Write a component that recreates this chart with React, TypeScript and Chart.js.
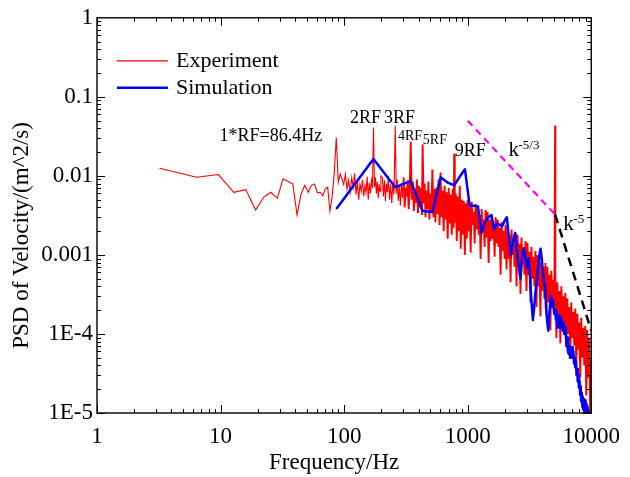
import React, { useEffect, useRef } from 'react';
import { Chart, registerables } from 'chart.js';

Chart.register(...registerables);

const FONT = "'Liberation Serif', 'Times New Roman', Times, serif";

// ---- axis ticks ----
const xTickValues = [1, 10, 100, 1000, 10000];
const xTickLabels = ['1', '10', '100', '1000', '10000'];
const yTickValues = [1e-5, 1e-4, 1e-3, 1e-2, 1e-1, 1];
const yTickLabels = ['1E-5', '1E-4', '0.001', '0.01', '0.1', '1'];

// ---- Experiment (frequency in Hz, PSD) ----
const expFreq = [
  3.2, 6.4, 9.6, 12.8, 16, 19.2, 22.4, 25.6, 28.8, 32,
  35.2, 38.4, 41.6, 44.8, 48, 51.2, 54.4, 57.6, 60.8, 64,
  67.2, 70.4, 73.6, 76.8, 80, 83.2, 86.4, 89.6, 92.8, 96,
  99.2, 102.4, 105.6, 108.8, 112, 115.2, 118.4, 121.6, 124.8, 128,
  131.2, 134.4, 137.6, 140.8, 144, 147.2, 150.4, 153.6, 156.8, 160,
  163.2, 166.4, 169.6, 172.8, 176, 179.2, 182.4, 185.6, 188.8, 192,
  195.2, 198.4,
  204, 208, 212, 216, 220, 224, 228, 233, 238, 243,
  248, 253, 259.2, 264, 269, 274, 280, 285, 291, 297,
  303, 309, 315, 321, 327, 333, 340, 345.6, 353, 360,
  367, 374, 381, 388, 396, 404, 412, 420, 426, 432,
  440, 448, 456, 464, 472, 481, 490, 499, 508, 518,
  528, 538, 548, 559, 570, 581, 592, 603, 615, 627,
  639, 651, 663, 676, 689, 702, 715, 729, 743, 757,
  770, 777.6, 786, 801, 816, 831, 847, 863, 879, 896,
  913, 930, 948, 966, 984,
  1000, 1019, 1038, 1057, 1077, 1097, 1118, 1139, 1160, 1182,
  1204, 1227, 1250, 1273, 1297, 1321, 1346, 1371, 1397, 1423,
  1450, 1477, 1505, 1533, 1562, 1591, 1621, 1651, 1682, 1714,
  1746, 1779, 1812, 1846, 1881, 1916, 1952, 1989, 2026, 2064,
  2103, 2142, 2182, 2223, 2265, 2307, 2350, 2394, 2439, 2485,
  2532, 2579, 2627, 2676, 2726, 2777, 2829, 2882, 2936, 2991,
  3047, 3104, 3162, 3221, 3282, 3343, 3406, 3470, 3535, 3601,
  3668, 3737, 3807, 3878, 3951, 4025, 4100, 4177, 4255, 4335,
  4416, 4499, 4583, 4669, 4757, 4846, 4937, 5029, 5096, 5124, 5220,
  5317, 5417, 5519, 5622, 5727, 5835, 5944, 6055, 6169, 6284,
  6402, 6522, 6644, 6769, 6895, 7025, 7156, 7290, 7427, 7566,
  7708, 7852, 7999, 8149, 8302, 8458, 8616, 8778, 8942, 9110,
  9281, 9455, 9632, 9813, 9997,
];
const expPsd = [
  0.0125, 0.0096, 0.0104, 0.0062, 0.0067, 0.0037, 0.0054, 0.0062, 0.0052, 0.0092,
  0.0085, 0.0079, 0.0032, 0.0059, 0.0076, 0.0062, 0.0076, 0.0079, 0.0061, 0.0062,
  0.0056, 0.0069, 0.0072, 0.0036, 0.0055, 0.011, 0.0305, 0.0083, 0.0106, 0.0092,
  0.0078, 0.0105, 0.0068, 0.0088, 0.0062, 0.0095, 0.0072, 0.0108, 0.0058, 0.0085,
  0.005, 0.0079, 0.0064, 0.009, 0.0055, 0.0075, 0.0062, 0.0098, 0.005, 0.0082,
  0.006, 0.0088, 0.007, 0.041, 0.0072, 0.0095, 0.006, 0.0085, 0.0052, 0.0078,
  0.0064, 0.01,
  0.0095, 0.0055, 0.0088, 0.0048, 0.008, 0.0062, 0.01, 0.005, 0.0078, 0.0045,
  0.0085, 0.0058, 0.043, 0.006, 0.009, 0.0048, 0.0075, 0.0042, 0.0082, 0.0052,
  0.0095, 0.004, 0.007, 0.0055, 0.0088, 0.0038, 0.0072, 0.027, 0.005, 0.0085,
  0.0036, 0.0068, 0.0045, 0.009, 0.0034, 0.0075, 0.004, 0.007, 0.0032, 0.025,
  0.0045, 0.008, 0.003, 0.0065, 0.0038, 0.0085, 0.0028, 0.006, 0.0035, 0.012,
  0.003, 0.0068, 0.0026, 0.0072, 0.0033, 0.009, 0.0024, 0.011, 0.003, 0.0065,
  0.002, 0.0075, 0.0028, 0.0062, 0.0016, 0.007, 0.0025, 0.0058, 0.0018, 0.0068,
  0.0022, 0.019, 0.0026, 0.006, 0.0015, 0.0055, 0.002, 0.0075, 0.0012, 0.005,
  0.0018, 0.0048, 0.001, 0.0045, 0.0016,
  5.0e-3, 2.0e-3, 4.0e-3, 1.07e-3, 4.7e-3, 2.4e-3, 3.5e-3, 1.4e-3, 4.4e-3, 2.1e-3,
  4.0e-3, 1.8e-3, 3.2e-3, 8.9e-4, 3.8e-3, 2.0e-3, 2.8e-3, 1.26e-3, 3.7e-3, 1.66e-3,
  3.5e-3, 7.9e-4, 2.8e-3, 1.5e-3, 3.3e-3, 1.6e-3, 2.5e-3, 9.5e-4, 3.0e-3, 1.4e-3,
  2.8e-3, 1.26e-3, 2.2e-3, 5.6e-4, 2.6e-3, 1.12e-3, 2.0e-3, 8.9e-4, 2.4e-3, 6.6e-4,
  2.24e-3, 8.9e-4, 1.8e-3, 4.5e-4, 2.1e-3, 1.0e-3, 1.6e-3, 7.1e-4, 1.9e-3, 4.0e-4,
  1.8e-3, 7.1e-4, 1.38e-3, 3.2e-4, 1.66e-3, 7.6e-4, 1.26e-3, 5.6e-4, 1.5e-3, 3.5e-4,
  1.41e-3, 5.6e-4, 1.1e-3, 2.5e-4, 1.26e-3, 5.0e-4, 9.5e-4, 4.0e-4, 1.12e-3, 2.2e-4,
  1.0e-3, 4.0e-4, 7.9e-4, 1.66e-4, 8.9e-4, 3.5e-4, 7.1e-4, 2.8e-4, 7.9e-4, 1.8e-4,
  7.1e-4, 2.5e-4, 5.6e-4, 1.12e-4, 6.3e-4, 2.2e-4, 4.8e-4, 2.0e-4, 0.0434, 5.0e-4, 8.9e-5,
  4.5e-4, 1.6e-4, 3.5e-4, 7.6e-5, 4.0e-4, 1.4e-4, 3.0e-4, 1.12e-4, 3.3e-4, 7.1e-5,
  2.8e-4, 1.0e-4, 2.2e-4, 5.0e-5, 2.5e-4, 8.9e-5, 1.9e-4, 7.1e-5, 2.1e-4, 3.5e-5,
  1.8e-4, 6.3e-5, 1.4e-4, 2.8e-5, 1.6e-4, 5.0e-5, 1.2e-4, 4.0e-5, 1.26e-4, 1.66e-5,
  1.12e-4, 2.8e-5, 8.9e-5, 8.9e-6, 5.0e-5,
];

// ---- Simulation: PSD at multiples of the rotating frequency RF ----
const RF = 86.4;
const simPsd = [
  0.0038, 0.0163, 0.0072, 0.0086, 0.0036, 0.0035, 0.0096, 0.0082, 0.0076, 0.0098,
  0.0121, 0.0042, 0.0042, 0.0041, 0.0019, 0.0026, 0.003, 0.0032, 0.0021, 0.0025,
  0.0024, 0.0023, 0.0027, 0.003, 0.0016, 0.001, 0.0015, 0.0019, 0.0011, 0.0007,
  0.0005, 0.001, 0.0012, 0.0009, 0.00068, 0.0009, 0.0005, 0.00026, 0.00015, 0.00022,
  0.00035, 0.00046, 0.0007, 0.001, 0.0012, 0.0009, 0.0006, 0.00045, 0.0004, 0.0002,
  0.00014, 0.00011, 0.00018, 0.00025, 0.0003, 0.00022, 0.00026, 0.00018, 0.0002, 0.00015,
  0.00019, 0.00012, 0.00013, 0.00017, 0.00012, 0.00016, 0.00016, 0.00011, 0.00014, 0.0001,
  0.00012, 0.0001, 0.00007, 0.00009, 0.00006, 0.000056, 0.00007, 0.00005, 0.000068, 0.00006,
  0.000068, 0.00005, 0.00006, 0.000042, 0.00005, 0.000038, 0.000045, 0.00003, 0.000036, 0.000025,
  0.00003, 0.000021, 0.000026, 0.000017, 0.000022, 0.000014, 0.000018, 0.000012, 0.000016, 0.000011,
  0.000015, 0.00001, 0.000014, 0.0000145, 0.000011, 0.000013, 0.000009, 0.000012, 0.0000085, 0.000011,
  0.00001, 0.000008, 0.0000095, 0.000007, 0.000009,
];
const simFreq = simPsd.map((_, i) => RF * (i + 1));

// ---- reference slopes ----
const k53Freq = [1000, 5100];
const k53Psd = [0.05, 0.00324];
const k5Freq = [5100, 10000];
const k5Psd = [0.00324, 1.1e-4];

const seriesNames = ['Experiment', 'Simulation'];
const seriesColors = ['#ff0000', '#0000ff'];

// ---- text annotations (anchored in data coordinates: left / baseline) ----
const notes = [
  { text: '1*RF=86.4Hz', f: 9.82, v: 0.0279, size: 18 },
  { text: '2RF', f: 111.7, v: 0.047, size: 18 },
  { text: '3RF', f: 210, v: 0.047, size: 18 },
  { text: '4RF', f: 272.6, v: 0.0288, size: 14 },
  { text: '5RF', f: 433.6, v: 0.0256, size: 14 },
  { text: '9RF', f: 785, v: 0.0181, size: 18 },
  { text: 'k', f: 2142, v: 0.0176, size: 21 },
  { text: '-5/3', f: 2578, v: 0.0222, size: 13 },
  { text: 'k', f: 5943, v: 0.00208, size: 21 },
  { text: '-5', f: 7161, v: 0.00255, size: 13 },
];

const toXY = (fs: number[], vs: number[]) => fs.map((f, i) => ({ x: f, y: vs[i] }));

const decorPlugin = {
  id: 'decor',
  afterDraw(chart: any) {
    const { ctx, chartArea: a, scales } = chart;
    const xs = scales.x;
    const ys = scales.y;
    ctx.save();
    // inward ticks on all four sides
    ctx.strokeStyle = '#000';
    ctx.lineWidth = 1;
    ctx.beginPath();
    for (let d = 0; d < 4; d++) {
      for (let m = 1; m <= 9; m++) {
        const v = m * Math.pow(10, d);
        const px = Math.round(xs.getPixelForValue(v)) + 0.5;
        const len = m === 1 ? 8 : 4;
        ctx.moveTo(px, a.bottom);
        ctx.lineTo(px, a.bottom - len);
        ctx.moveTo(px, a.top);
        ctx.lineTo(px, a.top + len);
      }
    }
    for (let d = -5; d < 0; d++) {
      for (let m = 1; m <= 9; m++) {
        const v = m * Math.pow(10, d);
        const py = Math.round(ys.getPixelForValue(v)) + 0.5;
        const len = m === 1 ? 8 : 4;
        ctx.moveTo(a.left, py);
        ctx.lineTo(a.left + len, py);
        ctx.moveTo(a.right, py);
        ctx.lineTo(a.right - len, py);
      }
    }
    ctx.stroke();
    ctx.lineWidth = 1.4;
    ctx.strokeRect(a.left, a.top, a.right - a.left, a.bottom - a.top);

    // legend
    ctx.fillStyle = '#000';
    ctx.textAlign = 'left';
    ctx.textBaseline = 'middle';
    ctx.font = `22px ${FONT}`;
    seriesNames.forEach((name, i) => {
      const y = a.top + 43 + i * 27;
      ctx.strokeStyle = seriesColors[i];
      ctx.lineWidth = i === 0 ? 1.2 : 2.5;
      ctx.beginPath();
      ctx.moveTo(a.left + 20, y);
      ctx.lineTo(a.left + 71, y);
      ctx.stroke();
      ctx.fillText(name, a.left + 79, y);
    });

    // annotations
    ctx.textBaseline = 'alphabetic';
    notes.forEach((n) => {
      ctx.font = `${n.size}px ${FONT}`;
      ctx.fillText(n.text, xs.getPixelForValue(n.f), ys.getPixelForValue(n.v));
    });

    // axis titles
    ctx.textAlign = 'center';
    ctx.textBaseline = 'middle';
    ctx.font = `23px ${FONT}`;
    ctx.fillText('Frequency/Hz', (a.left + a.right) / 2 - 10, a.bottom + 50);
    ctx.save();
    ctx.translate(22, (a.top + a.bottom) / 2 + 20);
    ctx.rotate(-Math.PI / 2);
    ctx.fillText('PSD of Velocity/(m^2/s)', 0, 0);
    ctx.restore();
    ctx.restore();
  },
};

export default function App() {
  const ref = useRef<HTMLCanvasElement>(null);
  useEffect(() => {
    const chart = new Chart(ref.current as HTMLCanvasElement, {
      type: 'line',
      data: {
        datasets: [
          {
            label: seriesNames[0],
            data: toXY(expFreq, expPsd),
            borderColor: seriesColors[0],
            borderWidth: 1.1,
            pointRadius: 0,
            tension: 0,
            order: 3,
            segment: {
              // dense part of the spectrum: thicker stroke so the band reads solid
              borderWidth: (c: any) => (c.p0.parsed.x >= 300 ? 1.9 : 1.1),
            },
          },
          {
            label: seriesNames[1],
            data: toXY(simFreq, simPsd),
            borderColor: seriesColors[1],
            borderWidth: 2.5,
            borderJoinStyle: 'round',
            pointRadius: 0,
            tension: 0,
            order: 2,
          },
          {
            label: 'k-5/3',
            data: toXY(k53Freq, k53Psd),
            borderColor: '#ff00ff',
            borderWidth: 2.2,
            borderDash: [7, 5],
            pointRadius: 0,
            order: 1,
          },
          {
            label: 'k-5',
            data: toXY(k5Freq, k5Psd),
            borderColor: '#000000',
            borderWidth: 2.5,
            borderDash: [9, 6],
            pointRadius: 0,
            order: 1,
          },
        ],
      } as any,
      options: {
        animation: false,
        responsive: true,
        maintainAspectRatio: false,
        events: [],
        layout: { padding: { left: 0, top: 14, right: 37, bottom: 0 } },
        plugins: { legend: { display: false }, tooltip: { enabled: false } },
        scales: {
          x: {
            type: 'logarithmic',
            min: 1,
            max: 10000,
            grid: { display: false, drawTicks: false },
            border: { display: false },
            afterBuildTicks: (s: any) => {
              s.ticks = xTickValues.map((v) => ({ value: v }));
            },
            afterFit: (s: any) => {
              s.height = 64;
            },
            ticks: {
              autoSkip: false,
              maxRotation: 0,
              padding: 10,
              color: '#000',
              font: { family: FONT, size: 23 },
              callback: (_v: any, i: number) => xTickLabels[i],
            },
          },
          y: {
            type: 'logarithmic',
            min: 1e-5,
            max: 1,
            grid: { display: false, drawTicks: false },
            border: { display: false },
            afterBuildTicks: (s: any) => {
              s.ticks = yTickValues.map((v) => ({ value: v }));
            },
            afterFit: (s: any) => {
              s.width = 97;
            },
            ticks: {
              autoSkip: false,
              padding: 4,
              color: '#000',
              font: { family: FONT, size: 23 },
              callback: (_v: any, i: number) => yTickLabels[i],
            },
          },
        },
      } as any,
      plugins: [decorPlugin],
    });
    return () => chart.destroy();
  }, []);
  return (
    <div style={{ position: 'absolute', left: 0, top: 0, width: 630, height: 477, background: '#fff' }}>
      <canvas ref={ref} />
    </div>
  );
}
